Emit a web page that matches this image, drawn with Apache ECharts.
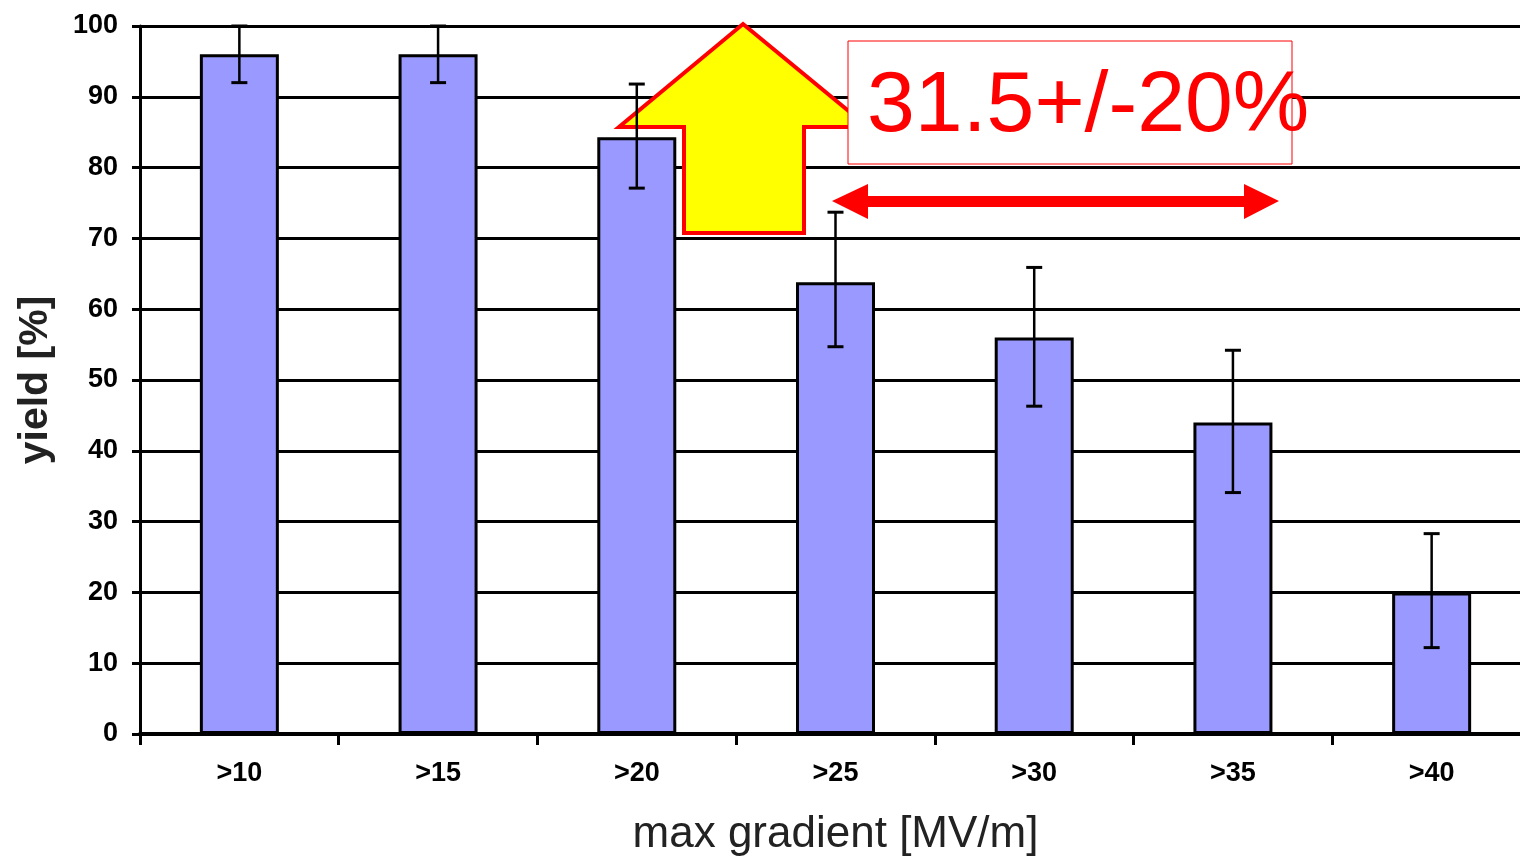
<!DOCTYPE html>
<html>
<head>
<meta charset="utf-8">
<script src="https://cdn.jsdelivr.net/npm/echarts@6/dist/echarts.min.js"></script>
<style>
html,body{margin:0;padding:0;background:#fff;overflow:hidden;}
#chart{width:1520px;height:856px;}
</style>
</head>
<body>
<div id="chart"></div>
<script>
var categories = ['>10', '>15', '>20', '>25', '>30', '>35', '>40'];
var yieldValues = [96, 96, 84.3, 63.8, 56, 44, 20];
var errorLow = [92, 92, 77.1, 54.7, 46.3, 34.1, 12.2];
var errorHigh = [100, 100, 91.8, 73.7, 65.9, 54.2, 28.3];
var yTicks = [0, 10, 20, 30, 40, 50, 60, 70, 80, 90, 100];
var annotationText = '31.5+/-20%';

var errorData = categories.map(function (c, i) { return [i, errorLow[i], errorHigh[i]]; });

var chart = echarts.init(document.getElementById('chart'), null, {renderer: 'canvas'});
var tickFont = {fontFamily: 'Liberation Sans', fontWeight: 'bold', fontSize: 27, color: '#000'};

chart.setOption({
  animation: false,
  backgroundColor: '#fff',
  grid: {left: 140, right: -11, top: 26, bottom: 122, containLabel: false, outerBoundsMode: 'none'},
  xAxis: {
    type: 'category',
    data: categories,
    name: 'max gradient [MV/m]',
    nameLocation: 'middle',
    nameGap: 79,
    nameTextStyle: {fontFamily: 'Liberation Sans', fontSize: 44, color: '#222'},
    axisLine: {show: true, lineStyle: {color: '#000', width: 4}},
    axisTick: {show: true, length: 11, lineStyle: {color: '#000', width: 3}},
    axisLabel: Object.assign({margin: 26}, tickFont),
    splitLine: {show: false}
  },
  yAxis: {
    type: 'value',
    min: yTicks[0],
    max: yTicks[yTicks.length - 1],
    interval: 10,
    name: 'yield [%]',
    nameLocation: 'middle',
    nameGap: 84,
    nameTextStyle: {fontFamily: 'Liberation Sans', fontWeight: 'bold', fontSize: 41, color: '#222'},
    axisLine: {show: true, lineStyle: {color: '#000', width: 3}},
    axisTick: {show: true, length: 8, lineStyle: {color: '#000', width: 3}},
    axisLabel: Object.assign({margin: 22}, tickFont),
    splitLine: {show: true, lineStyle: {color: '#000', width: 3}}
  },
  graphic: [
    {
      type: 'polygon', z: 1,
      shape: {points: [[743, 24], [868, 127], [804, 127], [804, 233], [684, 233], [684, 127], [619, 127]]},
      style: {fill: '#ffff00', stroke: '#ff0000', lineWidth: 4, lineJoin: 'miter'}
    },
    {
      type: 'rect', z: 1,
      shape: {x: 848, y: 41, width: 444, height: 123},
      style: {fill: '#fff', stroke: '#ff0000', lineWidth: 1}
    },
    {
      type: 'text', z: 2,
      x: 867, y: 150,
      style: {text: annotationText, fill: '#ff0000', fontFamily: 'Liberation Sans', fontSize: 86, verticalAlign: 'bottom'}
    },
    {
      type: 'polygon', z: 1,
      shape: {points: [[832, 201], [868, 184], [868, 196], [1244, 196], [1244, 184], [1279, 201], [1244, 219], [1244, 207], [868, 207], [868, 219]]},
      style: {fill: '#ff0000'}
    }
  ],
  series: [
    {
      type: 'bar',
      data: yieldValues,
      barWidth: 79,
      z: 2,
      itemStyle: {color: '#9999ff', borderColor: '#000', borderWidth: 3}
    },
    {
      type: 'custom',
      z: 10,
      data: errorData,
      renderItem: function (params, api) {
        var x = api.value(0);
        var lo = api.coord([x, api.value(1)]);
        var hi = api.coord([x, api.value(2)]);
        var hw = 8;
        return {
          type: 'group',
          children: [
            {type: 'line', shape: {x1: lo[0], y1: lo[1], x2: hi[0], y2: hi[1]}, style: {stroke: '#000', lineWidth: 2.5}},
            {type: 'line', shape: {x1: lo[0] - hw, y1: lo[1], x2: lo[0] + hw, y2: lo[1]}, style: {stroke: '#000', lineWidth: 3}},
            {type: 'line', shape: {x1: hi[0] - hw, y1: hi[1], x2: hi[0] + hw, y2: hi[1]}, style: {stroke: '#000', lineWidth: 3}}
          ]
        };
      }
    }
  ]
});
</script>
</body>
</html>
